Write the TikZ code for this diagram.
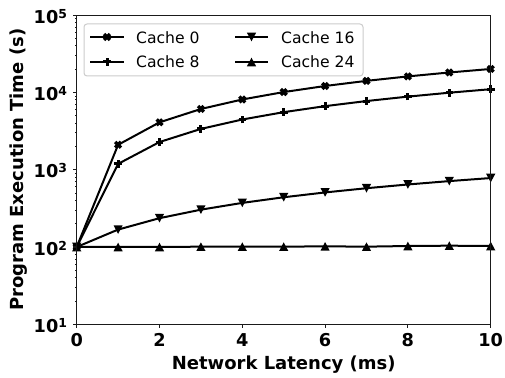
\documentclass[tikz,border=0pt]{standalone}
\usepackage{fontspec}
\setmainfont{DejaVu Sans}
\usepackage{xcolor}
\usepackage{tikz}
\usetikzlibrary{positioning}
\definecolor{legendgray}{HTML}{CCCCCC}
\definecolor{framedark}{HTML}{1A1A1A}
\tikzset{
  dataline/.style={black, line width=2pt, line join=round},
  frameline/.style={framedark, line width=1.1pt},
  ticklabel/.style={font=\fontsize{17.7}{18}\selectfont\bfseries, inner sep=0pt},
  axislabel/.style={font=\fontsize{18}{18}\selectfont\bfseries, inner sep=0pt},
  legendlabel/.style={font=\fontsize{15.6}{16}\selectfont, inner sep=0pt, anchor=base west},
  xmark/.pic={\draw[black, line width=3.4pt] (-2.9pt,-2.9pt) -- (2.9pt,2.9pt) (-2.9pt,2.9pt) -- (2.9pt,-2.9pt);},
  plusmark/.pic={\draw[black, line width=3pt] (-3.8pt,0) -- (3.8pt,0) (0,-3.8pt) -- (0,3.8pt);},
  downmark/.pic={\fill[black] (0,-4.3pt) -- (-4.6pt,4.3pt) -- (4.6pt,4.3pt) -- cycle;},
  upmark/.pic={\fill[black] (0,4.3pt) -- (-4.6pt,-4.3pt) -- (4.6pt,-4.3pt) -- cycle;}
}

\begin{document}
\begin{tikzpicture}[x=41.4pt, y=77.3pt]
  % Canvas
  \useasboundingbox (-76.7pt,-52.7pt) rectangle (428.3pt,324.3pt);
  \fill[white] (-76.7pt,-52.7pt) rectangle (428.3pt,324.3pt);

  % Data series, times in units of 10 s (so y = log10 of the value)
  \draw[dataline] (0,1) \foreach \v [count=\i from 0] in {10,210,410,610,810,1010,1210,1410,1610,1810,2010} { -- (\i,{log10(\v)}) };
  \draw[dataline] (0,1) \foreach \v [count=\i from 0] in {10,119,228,337,446,555,664,773,882,991,1100} { -- (\i,{log10(\v)}) };
  \draw[dataline] (0,1) \foreach \v [count=\i from 0] in {10,16.8,23.6,30.4,37.2,44,50.8,57.6,64.4,71.2,78} { -- (\i,{log10(\v)}) };
  \draw[dataline] (0,1) \foreach \v [count=\i from 0] in {10,10,10,10.1,10.1,10.1,10.2,10.1,10.3,10.4,10.3} { -- (\i,{log10(\v)}) };

  % Markers
  \foreach \v [count=\i from 0] in {10,210,410,610,810,1010,1210,1410,1610,1810,2010}
    \pic at (\i,{log10(\v)}) {xmark};
  \foreach \v [count=\i from 0] in {10,119,228,337,446,555,664,773,882,991,1100}
    \pic at (\i,{log10(\v)}) {plusmark};
  \foreach \v [count=\i from 0] in {10,16.8,23.6,30.4,37.2,44,50.8,57.6,64.4,71.2,78}
    \pic at (\i,{log10(\v)}) {downmark};
  \foreach \v [count=\i from 0] in {10,10,10,10.1,10.1,10.1,10.2,10.1,10.3,10.4,10.3}
    \pic at (\i,{log10(\v)}) {upmark};

  % Frame
  \draw[frameline] (0,0) rectangle (10,4);

  % X ticks
  \foreach \x in {0,2,...,10} {
    \draw[frameline] (\x,0) -- ++(0,-3.5pt);
    \node[ticklabel, anchor=base] (xtick\x) at ([yshift=-22.4pt]\x,0) {\x};
  }

  % Y ticks (log scale)
  \foreach \e [count=\k from 0] in {1,...,5} {
    \draw[frameline] (0,\k) -- ++(-3.5pt,0);
    \node[ticklabel, anchor=base east] (ytick\e) at ([xshift=-9.5pt, yshift=-8.3pt]0,\k)
      {10\raisebox{5pt}{\fontsize{12.4}{12.4}\selectfont\e}};
  }
  \foreach \k in {0,...,3}
    \foreach \m in {2,...,9}
      \draw[framedark, line width=0.8pt] (0,{\k+log10(\m)}) -- ++(-2pt,0);

  % Axis labels
  \node[axislabel, anchor=base] (xlabel) at ([yshift=-45.2pt]5,0) {Network Latency (ms)};
  \node[axislabel, rotate=90, anchor=base] (ylabel) at ([xshift=-53.3pt]0,2) {Program Execution Time (s)};

  % Legend
  \fill[white, opacity=0.8, rounded corners=3pt] (7.3pt,248.3pt) rectangle (286.3pt,300.3pt);
  \draw[legendgray, line width=1pt, rounded corners=3pt] (7.3pt,248.3pt) rectangle (286.3pt,300.3pt);
  \draw[dataline] (13.3pt,287.3pt) -- (47.3pt,287.3pt);
  \pic at (30.3pt,287.3pt) {xmark};
  \node[legendlabel] (leg0) at (59.3pt,281pt) {Cache 0};
  \draw[dataline] (13.3pt,262.3pt) -- (47.3pt,262.3pt);
  \pic at (30.3pt,262.3pt) {plusmark};
  \node[legendlabel] (leg8) at (59.3pt,256.6pt) {Cache 8};
  \draw[dataline] (158.3pt,287.3pt) -- (191.3pt,287.3pt);
  \pic at (174.8pt,287.3pt) {downmark};
  \node[legendlabel] (leg16) at (204.3pt,281pt) {Cache 16};
  \draw[dataline] (158.3pt,262.3pt) -- (191.3pt,262.3pt);
  \pic at (174.8pt,262.3pt) {upmark};
  \node[legendlabel] (leg24) at (204.3pt,256.6pt) {Cache 24};
\end{tikzpicture}
\end{document}
